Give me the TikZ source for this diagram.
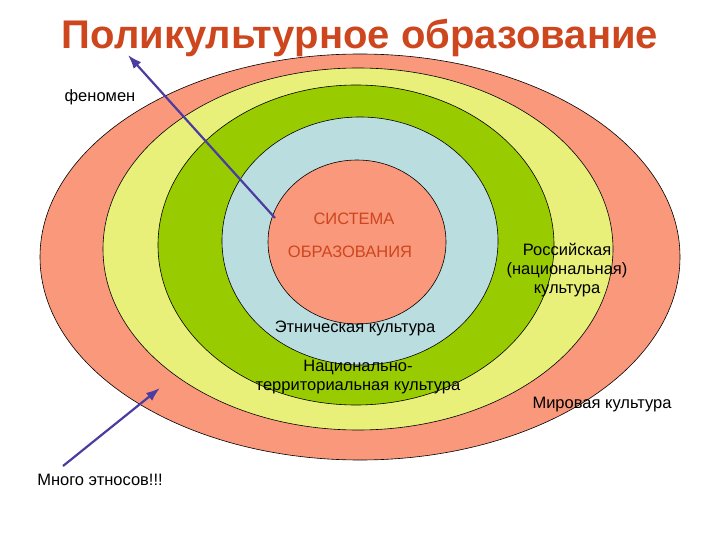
\documentclass[tikz,border=0pt]{standalone}
\usepackage{fontspec}
\setmainfont{Liberation Sans}
\usetikzlibrary{arrows.meta}
\begin{document}
\begin{tikzpicture}[x=1pt,y=-1pt,
  ring/.style={draw=black,line width=0.6pt},
  lbl/.style={font=\fontsize{16.5}{19}\selectfont,align=center,inner sep=0pt},
  arr/.style={-{Latex[length=14pt,width=10pt]},draw={rgb,255:red,75;green,60;blue,160},line width=2.2pt}]
\useasboundingbox (0,0) rectangle (720,540);
\definecolor{salmon}{RGB}{250,152,124}
\definecolor{lyel}{RGB}{232,240,122}
\definecolor{lgreen}{RGB}{153,204,0}
\definecolor{lblue}{RGB}{186,222,224}
\definecolor{ttl}{RGB}{205,70,30}
\fill[salmon,ring] (360,257) ellipse [x radius=320,y radius=203];
\fill[lyel,ring] (358,249) ellipse [x radius=255,y radius=181];
\fill[lgreen,ring] (356,245) ellipse [x radius=198,y radius=160];
\fill[lblue,ring] (360,241) ellipse [x radius=138,y radius=124];
\fill[salmon,ring] (357,242) ellipse [x radius=89,y radius=82];
\node[font=\bfseries\fontsize{40}{44}\selectfont,text=ttl] (title) at (360,38) {Поликультурное образование};
\node[lbl] (phen) at (100,97) {феномен};
\node[lbl] (many) at (100,480) {Много этносов!!!};
\node[lbl,text=ttl] (sys) at (354,219) {СИСТЕМА};
\node[lbl,text=ttl] (obr) at (350,252) {ОБРАЗОВАНИЯ};
\node[lbl] (ros) at (567,270) {Российская\\(национальная)\\культура};
\node[lbl] (eth) at (355,328) {Этническая культура};
\node[lbl] (nat) at (358,377) {Национально-\\территориальная культура};
\node[lbl] (mir) at (602,405) {Мировая культура};
\coordinate (a1) at (275,218);
\coordinate (a2) at (128,55);
\coordinate (b1) at (63,466);
\coordinate (b2) at (160,388);
\draw[arr] (a1) -- (a2);
\draw[arr] (b1) -- (b2);
\end{tikzpicture}
\end{document}
